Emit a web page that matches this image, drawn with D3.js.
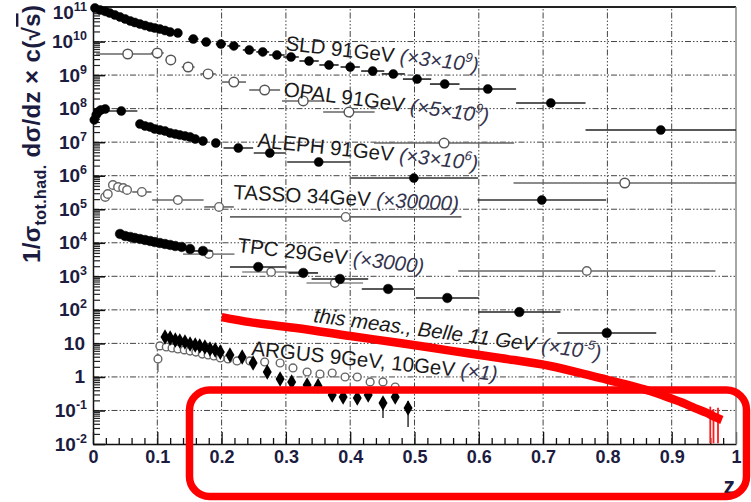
<!DOCTYPE html>
<html>
<head>
<meta charset="utf-8">
<script src="https://cdn.jsdelivr.net/npm/d3@7"></script>
<style>
  body { margin: 0; background: #fff; }
  svg { display: block; }
</style>
</head>
<body>
<svg id="chart" width="751" height="502"></svg>
<script>
// ---- Fragmentation function data (scaled per experiment) ----
// SLD 91 GeV (x3e9), filled circles
const sldZ   = [0.003,0.011,0.019,0.026,0.034,0.042,0.050,0.058,0.065,0.073,0.081,0.089,0.096,0.104,0.112,0.120,0.132,0.156,0.176,0.199,0.219,0.243,0.264,0.286,0.308,0.336,0.367,0.400,0.435,0.467,0.504,0.547,0.614,0.712,0.883];
const sldVal = [1.0e11,8.7e10,7.9e10,7.1e10,6.2e10,5.4e10,4.7e10,4.1e10,3.7e10,3.33e10,3.0e10,2.71e10,2.53e10,2.36e10,2.13e10,1.92e10,1.80e10,1.19e10,9.7e9,8.45e9,7.4e9,5.6e9,4.9e9,3.97e9,3.46e9,2.63e9,2.0e9,1.74e9,1.32e9,1.08e9,7.6e8,5.4e8,3.85e8,1.47e8,2.3e7];
const sldErr = [0,0,0,0,0,0,0,0,0,0,0,0,0,0,0,0,0.005,0.008,0.008,0.008,0.01,0.01,0.01,0.012,0.012,0.015,0.015,0.015,0.018,0.018,0.022,0.023,0.044,0.054,0.117];

// OPAL 91 GeV (x5e9), open circles
const opalZ   = [0.054,0.100,0.121,0.148,0.179,0.219,0.267,0.327,0.398,0.546,0.827];
const opalVal = [4.25e9,4.55e9,2.82e9,1.74e9,1.08e9,6.2e8,3.59e8,1.69e8,7.9e7,9.4e6,6.05e5];
const opalErr = [0.049,0.01,0.008,0.01,0.012,0.019,0.024,0.033,0.04,0.109,0.173];

// ALEPH 91 GeV (x3e6), filled circles
const alephZ   = [0.002,0.005,0.008,0.012,0.019,0.044,0.073,0.081,0.089,0.096,0.104,0.112,0.120,0.128,0.135,0.143,0.151,0.159,0.171,0.191,0.226,0.275,0.351,0.499,0.698];
const alephVal = [4.6e7,6.5e7,7.9e7,9.1e7,9.75e7,8.5e7,3.48e7,3.03e7,2.83e7,2.47e7,2.31e7,2.15e7,1.88e7,1.75e7,1.64e7,1.53e7,1.43e7,1.24e7,1.08e7,9.4e6,6.7e6,4.75e6,2.56e6,8.5e5,1.88e5];
const alephErr = [0,0,0,0,0,0.025,0,0,0,0,0,0,0,0,0,0,0,0,0,0,0.023,0.025,0.049,0.1,0.1];

// TASSO 34 GeV (x30000), open circles
const tassoZ   = [0.019,0.023,0.031,0.039,0.047,0.053,0.076,0.132,0.196,0.393,0.768];
const tassoVal = [2.32e5,2.85e5,5.28e5,4.6e5,4.3e5,3.75e5,3.27e5,1.88e5,1.17e5,5.9e4,1.44e3];
const tassoErr = [0,0,0,0,0,0,0.015,0.04,0.023,0.18,0.2];

// TPC 29 GeV (x3000), filled and open circles
const tpcZ   = [0.042,0.050,0.058,0.065,0.073,0.081,0.089,0.096,0.104,0.112,0.120,0.128,0.138,0.151,0.171,0.257,0.327,0.384,0.459,0.551,0.663,0.799];
const tpcVal = [1.83e4,1.59e4,1.49e4,1.39e4,1.30e4,1.21e4,1.13e4,1.05e4,9.85e3,9.2e3,8.6e3,8.0e3,7.5e3,6.5e3,5.7e3,1.90e3,1.26e3,832,419,226,86,20.4];
const tpcErr = [0,0,0,0,0,0,0,0,0,0,0,0,0,0,0.015,0.044,0.023,0.044,0.041,0.049,0.064,0.077];
const tpcOpenZ   = [0.180,0.277,0.376];
const tpcOpenVal = [4.6e3,1.35e3,632];
const tpcOpenErr = [0.04,0.045,0.044];

// ARGUS 9 GeV, 10 GeV (x1): filled diamonds and open circles
const argusZ   = [0.112,0.120,0.128,0.135,0.143,0.151,0.159,0.166,0.174,0.182,0.190,0.198,0.213,0.232,0.249,0.271,0.291,0.309,0.333,0.350,0.372,0.389,0.411,0.428,0.451,0.470,0.490];
const argusVal = [15.5,14.5,12.6,11.8,11.0,9.6,9.0,8.4,7.8,6.8,6.4,5.5,4.5,3.93,2.60,1.40,0.87,0.71,0.574,0.54,0.289,0.252,0.235,0.289,0.167,0.252,0.119];
const argusBarZ  = [0.451,0.490];
const argusBarLo = [0.06,0.032];
const argusBarHi = [0.25,0.19];
const argusOpenZ   = [0.101,0.104,0.114,0.123,0.132,0.142,0.151,0.160,0.170,0.179,0.188,0.198,0.210,0.224,0.244,0.267,0.291,0.311,0.333,0.353,0.372,0.392,0.411,0.431,0.451,0.470];
const argusOpenVal = [3.43,8.4,7.8,7.3,6.8,6.4,5.9,5.5,4.8,4.5,4.2,3.67,3.43,2.99,2.99,2.79,2.60,1.85,1.40,1.22,1.31,0.995,0.995,0.71,0.71,0.50];
const argusOpenBarZ  = [0.101];
const argusOpenBarLo = [1.4];
const argusOpenBarHi = [5.0];

// Belle 11 GeV, this measurement (x1e-5)
const belleZ   = [0.200,0.244,0.322,0.400,0.477,0.555,0.633,0.711,0.788,0.827,0.866,0.897,0.918,0.936,0.955,0.967,0.978];
const belleVal = [61,43,27.8,16.6,10.3,6.1,3.67,2.12,0.93,0.615,0.38,0.235,0.167,0.118,0.084,0.064,0.052];
const belleBarZ  = [0.960,0.965,0.972];
const belleBarLo = [0.0105,0.0105,0.0105];
const belleBarHi = [0.13,0.11,0.12];

// ---- Axis ticks ----
const xTicks = [0,0.1,0.2,0.3,0.4,0.5,0.6,0.7,0.8,0.9,1];
const xTickLabels = ["0","0.1","0.2","0.3","0.4","0.5","0.6","0.7","0.8","0.9","1"];
const yExponents = [-2,-1,0,1,2,3,4,5,6,7,8,9,10,11];

// ---- Drawing ----
const FONT = "'Liberation Sans', Arial, Helvetica, sans-serif";
const NAVY = "#1c1c40";
const svg = d3.select("#chart");

const x = d3.scaleLinear().domain([0, 1]).range([93, 736]);
const y = d3.scaleLog().domain([1e-2, 1e11]).range([444, 8]);
const [xL, xR] = x.range();
const [yB, yT] = y.range();

const yMajor = yExponents.map(e => Math.pow(10, e));
const yMinor = [];
yExponents.slice(0, -1).forEach(e => { for (let m = 2; m <= 9; m++) yMinor.push(m * Math.pow(10, e)); });
const xMinor = d3.range(0, 50).map(i => i * 0.02).filter(v => Math.abs(v * 10 - Math.round(v * 10)) > 1e-6);

// grid (dash-dot-dot)
const grid = svg.append("g")
  .attr("stroke", "#444").attr("stroke-width", 1)
  .attr("stroke-dasharray", "6,2,1.5,2,1.5,2,1.5,2").attr("fill", "none");
grid.selectAll(".gv").data(xTicks.slice(1, -1)).join("line")
  .attr("x1", d => x(d)).attr("x2", d => x(d)).attr("y1", yB).attr("y2", yT);
grid.selectAll(".gh").data(yMajor.slice(1, -1)).join("line")
  .attr("y1", d => y(d)).attr("y2", d => y(d)).attr("x1", xL).attr("x2", xR);

// x axis
const xAxisG = svg.append("g").attr("transform", `translate(0,${yB})`)
  .call(d3.axisBottom(x).tickValues(xTicks).tickSize(-12).tickSizeOuter(0).tickPadding(6)
    .tickFormat((d, i) => xTickLabels[i]));
xAxisG.selectAll("text").attr("font-family", FONT).attr("font-size", 18)
  .attr("font-weight", "bold").attr("fill", NAVY);
const xMinorG = svg.append("g").attr("transform", `translate(0,${yB})`)
  .call(d3.axisBottom(x).tickValues(xMinor).tickSize(-6).tickSizeOuter(0).tickFormat(""));
xMinorG.select(".domain").remove();
svg.selectAll(".tick line").attr("stroke", "#111").attr("stroke-width", 1.3);

// y axis
const yAxisG = svg.append("g").attr("transform", `translate(${xL},0)`)
  .call(d3.axisLeft(y).tickValues(yMajor).tickSize(-12).tickSizeOuter(0).tickFormat(""));
const yMinorG = svg.append("g").attr("transform", `translate(${xL},0)`)
  .call(d3.axisLeft(y).tickValues(yMinor).tickSize(-7).tickSizeOuter(0).tickFormat(""));
yMinorG.select(".domain").remove();
yAxisG.selectAll(".tick line").attr("stroke", "#111").attr("stroke-width", 1.6);
yMinorG.selectAll(".tick line").attr("stroke", "#222").attr("stroke-width", 1.2);
svg.selectAll(".domain").attr("stroke", "#111").attr("stroke-width", 1.5);

// y tick labels 10^n
const yLab = svg.append("g").attr("font-family", FONT).attr("font-weight", "bold")
  .attr("fill", NAVY).attr("text-anchor", "end");
yExponents.forEach(e => {
  const py = y(Math.pow(10, e)) + 6.5 + (e === 11 ? 4.5 : 0);
  const t = yLab.append("text").attr("x", 87).attr("y", py).attr("font-size", 19);
  if (e === 0) { t.attr("x", 85).text("1"); return; }
  if (e === 1) { t.attr("x", 85).text("10"); return; }
  t.append("tspan").text("10");
  t.append("tspan").attr("font-size", 12.5).attr("dy", -8).text(e < 0 ? "-" + (-e) : String(e));
});

// frame top and right
svg.append("line").attr("x1", xL).attr("x2", xR).attr("y1", yT - 1).attr("y2", yT - 1)
  .attr("stroke", "#222").attr("stroke-width", 2);
svg.append("line").attr("x1", xR).attr("x2", xR).attr("y1", yT - 1).attr("y2", yB)
  .attr("stroke", "#888").attr("stroke-width", 1.5);

// axis titles
const yTitle = svg.append("text")
  .attr("transform", `translate(40,263) rotate(-90)`)
  .attr("font-family", FONT).attr("font-weight", "bold").attr("font-size", 24)
  .attr("fill", NAVY).attr("textLength", 258).attr("lengthAdjust", "spacing");
yTitle.append("tspan").text("1/σ");
yTitle.append("tspan").attr("font-size", 16).attr("dy", 6).text("tot.had.");
yTitle.append("tspan").attr("dy", -6).text(" dσ/dz × c(√");
yTitle.append("tspan").style("text-decoration", "overline").text("s");
yTitle.append("tspan").text(")");

svg.append("text").attr("x", 735).attr("y", 494).attr("text-anchor", "end")
  .attr("font-family", FONT).attr("font-weight", "bold").attr("font-size", 23)
  .attr("fill", NAVY).text("z");

// ---- data marks ----
function hBars(g, zs, vs, errs, color, width) {
  g.selectAll(null).data(zs.map((z, i) => ({ z, v: vs[i], e: errs[i] })).filter(d => d.e > 0))
    .join("line")
    .attr("x1", d => x(d.z - d.e)).attr("x2", d => x(Math.min(1, d.z + d.e)))
    .attr("y1", d => y(d.v)).attr("y2", d => y(d.v))
    .attr("stroke", color).attr("stroke-width", width);
}
function vBars(g, zs, lo, hi, color, width) {
  g.selectAll(null).data(zs.map((z, i) => ({ z, lo: lo[i], hi: hi[i] })))
    .join("line")
    .attr("x1", d => x(d.z)).attr("x2", d => x(d.z))
    .attr("y1", d => y(d.lo)).attr("y2", d => y(d.hi))
    .attr("stroke", color).attr("stroke-width", width);
}
function dots(g, zs, vs, r, filled, stroke) {
  g.selectAll(null).data(zs.map((z, i) => ({ z, v: vs[i] })))
    .join("circle")
    .attr("cx", d => x(d.z)).attr("cy", d => y(d.v)).attr("r", r)
    .attr("fill", filled ? "#000" : "#fff")
    .attr("stroke", stroke).attr("stroke-width", filled ? 0.5 : 1.4);
}

const marks = svg.append("g");
// OPAL
const gOpal = marks.append("g");
hBars(gOpal, opalZ, opalVal, opalErr, "#666", 1.6);
dots(gOpal, opalZ, opalVal, 4.8, false, "#555");
// SLD
const gSld = marks.append("g");
hBars(gSld, sldZ, sldVal, sldErr, "#222", 1.6);
dots(gSld, sldZ, sldVal, 4.5, true, "#000");
// ALEPH
const gAleph = marks.append("g");
hBars(gAleph, alephZ, alephVal, alephErr, "#333", 1.6);
dots(gAleph, alephZ, alephVal, 4.5, true, "#000");
// TASSO
const gTasso = marks.append("g");
hBars(gTasso, tassoZ, tassoVal, tassoErr, "#666", 1.6);
dots(gTasso, tassoZ, tassoVal, 4.3, false, "#666");
// TPC
const gTpc = marks.append("g");
hBars(gTpc, tpcOpenZ, tpcOpenVal, tpcOpenErr, "#888", 1.6);
dots(gTpc, tpcOpenZ, tpcOpenVal, 4.2, false, "#666");
hBars(gTpc, tpcZ, tpcVal, tpcErr, "#222", 1.6);
dots(gTpc, tpcZ, tpcVal, 4.8, true, "#000");
// ARGUS
const gArgus = marks.append("g");
vBars(gArgus, argusOpenBarZ, argusOpenBarLo, argusOpenBarHi, "#666", 1.4);
dots(gArgus, argusOpenZ, argusOpenVal, 3.9, false, "#666");
vBars(gArgus, argusBarZ, argusBarLo, argusBarHi, "#222", 1.4);
gArgus.selectAll(null).data(argusZ.map((z, i) => ({ z, v: argusVal[i] })))
  .join("path")
  .attr("d", d3.symbol(d3.symbolDiamond, 70))
  .attr("transform", d => `translate(${x(d.z)},${y(d.v)})`)
  .attr("fill", "#000");

// ---- experiment labels ----
const labels = [
  { x: 285, y: 50,  a: 6.5, parts: [["SLD 91GeV ", ""], ["(×3×10", "i"], ["9", "s"], [")", "i"]] },
  { x: 283, y: 96,  a: 7.5, parts: [["OPAL 91GeV ", ""], ["(×5×10", "i"], ["9", "s"], [")", "i"]] },
  { x: 257, y: 147, a: 6,   parts: [["ALEPH 91GeV ", ""], ["(×3×10", "i"], ["6", "s"], [")", "i"]] },
  { x: 233, y: 199, a: 3,   parts: [["TASSO 34GeV ", ""], ["(×30000)", "i"]] },
  { x: 237, y: 252, a: 6.5, parts: [["TPC 29GeV ", ""], ["(×3000)", "i"]] },
  { x: 313, y: 322, a: 7.5, parts: [["this meas., Belle 11 GeV ", "b"], ["(×10", "i"], ["-5", "s"], [")", "i"]] },
  { x: 251, y: 355, a: 6,   parts: [["ARGUS 9GeV, 10GeV ", ""], ["(×1)", "i"]] }
];
const labG = svg.append("g").attr("font-family", FONT).attr("font-size", 20.5);
labels.forEach(l => {
  const t = labG.append("text").attr("transform", `translate(${l.x},${l.y}) rotate(${l.a})`);
  let raised = false;
  l.parts.forEach(([s, k]) => {
    const sp = t.append("tspan").text(s);
    if (k === "s") {
      sp.attr("font-size", 13).attr("dy", -9).attr("font-style", "italic").attr("fill", "#33334d");
      raised = true;
      return;
    }
    if (raised) { sp.attr("dy", 9); raised = false; }
    if (k === "i") sp.attr("font-style", "italic").attr("fill", "#33334d");
    else if (k === "b") sp.attr("font-style", "italic").attr("fill", "#1a1a1a");
    else sp.attr("fill", "#1a1a1a");
  });
});

// Belle band
const gBelle = svg.append("g");
vBars(gBelle, belleBarZ, belleBarLo, belleBarHi, "#ff1a1a", 1.8);
gBelle.append("path")
  .datum(belleZ.map((z, i) => [z, belleVal[i]]))
  .attr("d", d3.line().x(d => x(d[0])).y(d => y(d[1])).curve(d3.curveMonotoneX))
  .attr("fill", "none").attr("stroke", "#ff0000").attr("stroke-width", 8.5);

// highlight frame around the high-z region
svg.append("rect")
  .attr("x", 189.5).attr("y", 390).attr("width", 557).attr("height", 106.5)
  .attr("rx", 20).attr("ry", 20)
  .attr("fill", "none").attr("stroke", "#ff0000").attr("stroke-width", 7.5);
</script>
</body>
</html>
